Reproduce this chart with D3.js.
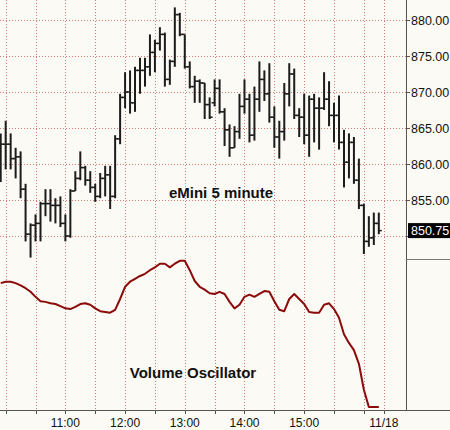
<!DOCTYPE html>
<html>
<head>
<meta charset="utf-8">
<script src="https://cdn.jsdelivr.net/npm/d3@7"></script>
<style>
  body { margin: 0; background: #fbfaf5; }
  text { font-family: "Liberation Sans", Arial, sans-serif; }
</style>
</head>
<body>
<div id="chart"></div>
<script>
// eMini 5 minute bars, first bar 09:55, last bar 16:15
const opens = [863.5, 862.75, 862.75, 860.75, 861.0, 856.5, 850.25, 851.5, 851.75, 854.5,
  854.5, 854.25, 854.25, 851.75, 850.0, 856.25, 858.0, 859.5, 857.75, 856.75,
  855.5, 858.0, 858.5, 855.5, 863.5, 869.25, 870.0, 868.5, 873.0, 873.0,
  873.5, 875.5, 876.75, 878.0, 871.75, 874.25, 880.75, 878.0, 873.5, 870.75,
  871.5, 871.25, 868.25, 868.5, 870.5, 867.25, 864.75, 862.25, 864.5, 868.0,
  869.0, 864.0, 869.0, 871.75, 869.75, 866.5, 863.75, 864.5, 869.75, 872.5,
  866.75, 866.5, 864.0, 869.0, 867.75, 867.75, 869.0, 866.75, 866.75, 863.0,
  860.25, 863.0, 857.75, 854.25, 849.25, 849.75, 851.75];
const highs = [864.25, 866.0, 864.25, 862.25, 861.75, 857.25, 851.75, 853.0, 854.75, 856.5,
  856.5, 855.25, 855.5, 853.0, 856.5, 859.0, 861.75, 859.75, 859.0, 857.25,
  858.75, 859.75, 859.75, 864.0, 869.75, 872.75, 873.0, 873.5, 874.75, 874.75,
  878.0, 877.25, 879.0, 878.25, 874.5, 881.75, 881.0, 878.0, 874.25, 872.25,
  871.75, 871.25, 869.25, 871.75, 871.75, 867.75, 865.5, 865.25, 869.75, 871.75,
  869.75, 870.75, 874.25, 873.0, 874.0, 868.0, 866.0, 871.25, 874.0, 873.25,
  867.75, 869.75, 869.5, 869.75, 869.25, 872.75, 871.5, 868.5, 869.5, 864.75,
  864.25, 863.75, 860.75, 854.5, 852.75, 853.25, 853.25];
const lows = [857.5, 859.25, 859.25, 858.0, 855.25, 849.25, 847.0, 849.25, 849.25, 852.75,
  852.0, 851.75, 851.25, 849.25, 849.75, 856.25, 857.75, 857.0, 856.0, 854.75,
  855.25, 855.5, 853.75, 855.25, 862.75, 867.75, 867.0, 867.25, 869.75, 870.75,
  872.25, 872.75, 875.75, 870.75, 871.0, 873.5, 877.75, 873.25, 870.5, 868.5,
  868.5, 866.25, 866.25, 868.0, 867.0, 862.5, 861.0, 862.25, 863.5, 867.0,
  863.0, 863.25, 867.25, 868.75, 865.75, 862.25, 860.75, 863.25, 868.0, 866.25,
  863.75, 862.75, 861.0, 863.0, 862.0, 867.5, 865.25, 863.0, 862.0, 856.75,
  858.0, 857.25, 853.75, 847.5, 848.5, 848.75, 850.25];
const closes = [862.75, 862.75, 860.75, 861.0, 856.5, 850.25, 851.5, 851.75, 854.5, 854.5,
  854.25, 854.25, 851.75, 850.0, 856.25, 858.0, 859.5, 857.75, 856.75, 855.5,
  858.0, 858.5, 855.5, 863.5, 869.25, 870.0, 868.5, 873.0, 873.0, 873.5,
  875.5, 876.75, 878.0, 871.75, 874.25, 880.75, 878.0, 873.5, 870.75, 871.5,
  871.25, 868.25, 866.5, 870.5, 867.25, 864.75, 862.25, 864.5, 868.0, 869.0,
  864.0, 869.0, 871.75, 869.75, 866.5, 863.75, 864.5, 869.75, 872.5, 866.75,
  866.5, 864.0, 869.0, 867.75, 867.75, 869.0, 866.75, 866.75, 863.0, 860.25,
  863.0, 857.75, 854.25, 849.25, 849.75, 851.75, 850.75];

// Volume oscillator, one value per bar
const oscillator = [2.2, 2.4, 2.4, 2.2, 1.9, 1.5, 1.0, 0.3, -0.3, -0.4,
  -0.6, -0.7, -1.0, -1.3, -1.4, -1.1, -0.7, -0.6, -0.8, -1.3,
  -1.7, -1.8, -1.9, -1.5, 0.0, 1.7, 2.4, 2.8, 3.2, 3.5,
  4.0, 4.4, 4.9, 4.9, 4.4, 4.9, 5.3, 5.3, 4.0, 2.5,
  1.7, 1.3, 0.8, 0.7, 1.0, 0.7, -0.4, -1.3, -0.8, 0.3,
  0.6, 0.3, 0.7, 1.1, 1.0, -0.3, -1.5, -1.7, 0.0, 0.7,
  0.0, -0.7, -1.8, -1.9, -1.9, -0.8, -0.6, -1.4, -2.6, -4.9,
  -6.1, -7.1, -9.0, -12.6, -15.0, -15.0, -15.0];

const firstBarTime = "09:55";
const barMinutes = 5;
const priceTicks = [850, 855, 860, 865, 870, 875, 880];
const gridTimes = ["10:00", "10:30", "11:00", "11:30", "12:00", "12:30", "13:00",
  "13:30", "14:00", "14:30", "15:00", "15:30", "16:00"];
const labelTimes = ["11:00", "12:00", "13:00", "14:00", "15:00"];
const dayBreakTime = "16:20";
const dayBreakLabel = "11/18";
const lastPrice = 850.75;

function toMinutes(s) {
  const p = s.split(":");
  return +p[0] * 60 + +p[1];
}

const bars = closes.map((c, i) => ({
  t: toMinutes(firstBarTime) + i * barMinutes,
  open: opens[i], high: highs[i], low: lows[i], close: c, osc: oscillator[i]
}));

const width = 450, height = 430;
const axisX = 406, axisY = 410;

const svg = d3.select("#chart")
  .append("svg")
  .attr("width", width)
  .attr("height", height);

svg.append("rect").attr("width", width).attr("height", height).attr("fill", "#fbfaf5");

// Scales
const x = d3.scaleLinear()
  .domain([toMinutes(firstBarTime), toMinutes(dayBreakTime)])
  .range([0.7, 0.7 + 77 * 4.975]);
const y = d3.scaleLinear().domain([850, 880]).range([236, 20]);
const oscY = d3.scaleLinear().domain([-15, 5]).range([407, 263]);

const gridColor = "#d07a7a";

// Horizontal grid (price panel)
svg.append("g")
  .selectAll("line")
  .data(priceTicks)
  .enter()
  .append("line")
  .attr("x1", 0)
  .attr("x2", axisX)
  .attr("y1", d => Math.round(y(d)) + 0.5)
  .attr("y2", d => Math.round(y(d)) + 0.5)
  .attr("stroke", gridColor)
  .attr("stroke-dasharray", "1,2");

// Vertical grid (both panels)
const vTimes = gridTimes.map(toMinutes).concat([toMinutes(dayBreakTime)]);
svg.append("g")
  .selectAll("line")
  .data(vTimes)
  .enter()
  .append("line")
  .attr("x1", d => Math.round(x(d)) + 0.5)
  .attr("x2", d => Math.round(x(d)) + 0.5)
  .attr("y1", 0)
  .attr("y2", axisY)
  .attr("stroke", gridColor)
  .attr("stroke-dasharray", "1,2");

// Price bars
const barG = svg.append("g").attr("stroke", "#1c1c1c");
barG.selectAll(".hl")
  .data(bars)
  .enter()
  .append("line")
  .attr("x1", d => x(d.t))
  .attr("x2", d => x(d.t))
  .attr("y1", d => y(d.high))
  .attr("y2", d => y(d.low))
  .attr("stroke-width", 2);
barG.selectAll(".op")
  .data(bars)
  .enter()
  .append("line")
  .attr("x1", d => x(d.t) - 3)
  .attr("x2", d => x(d.t))
  .attr("y1", d => y(d.open))
  .attr("y2", d => y(d.open))
  .attr("stroke-width", 1.5);
barG.selectAll(".cl")
  .data(bars)
  .enter()
  .append("line")
  .attr("x1", d => x(d.t))
  .attr("x2", d => x(d.t) + 3)
  .attr("y1", d => y(d.close))
  .attr("y2", d => y(d.close))
  .attr("stroke-width", 1.5);

// Volume oscillator line
const oscLine = d3.line()
  .x(d => x(d.t))
  .y(d => oscY(d.osc));
svg.append("path")
  .datum(bars)
  .attr("d", oscLine)
  .attr("fill", "none")
  .attr("stroke", "#8b0a0a")
  .attr("stroke-width", 2)
  .attr("stroke-linejoin", "round");

// Panel titles
svg.append("text")
  .attr("x", 221)
  .attr("y", 198)
  .attr("text-anchor", "middle")
  .style("font-size", "15px")
  .style("font-weight", "bold")
  .style("fill", "#111")
  .text("eMini 5 minute");

svg.append("text")
  .attr("x", 193)
  .attr("y", 378)
  .attr("text-anchor", "middle")
  .style("font-size", "15px")
  .style("font-weight", "bold")
  .style("fill", "#111")
  .text("Volume Oscillator");

// Right price axis
svg.append("line")
  .attr("x1", axisX + 0.5).attr("x2", axisX + 0.5)
  .attr("y1", 0).attr("y2", axisY)
  .attr("stroke", "#555");
svg.append("line")
  .attr("x1", axisX).attr("x2", width)
  .attr("y1", 259.5).attr("y2", 259.5)
  .attr("stroke", "#777");

const yAxis = svg.append("g")
  .selectAll("g")
  .data(priceTicks)
  .enter()
  .append("g")
  .attr("transform", d => "translate(0," + (Math.round(y(d)) + 0.5) + ")");
yAxis.append("line")
  .attr("x1", axisX).attr("x2", axisX + 4)
  .attr("stroke", "#555");
// the 850 label sits under the last price box, so it is left out
yAxis.filter(d => Math.abs(d - lastPrice) > 2)
  .append("text")
  .attr("x", axisX + 5)
  .attr("dy", "0.35em")
  .style("font-size", "12.5px")
  .style("fill", "#111")
  .text(d => d3.format(".2f")(d));

// Last price marker
svg.append("rect")
  .attr("x", axisX + 2)
  .attr("y", y(lastPrice) - 7.5)
  .attr("width", width - axisX - 2)
  .attr("height", 15)
  .attr("fill", "#000");
svg.append("text")
  .attr("x", axisX + 5)
  .attr("y", y(lastPrice))
  .attr("dy", "0.35em")
  .style("font-size", "12.5px")
  .style("fill", "#fff")
  .text(d3.format(".2f")(lastPrice));

// Bottom time axis
svg.append("line")
  .attr("x1", 0).attr("x2", width)
  .attr("y1", axisY + 0.5).attr("y2", axisY + 0.5)
  .attr("stroke", "#555");
svg.append("g")
  .selectAll("line")
  .data(vTimes)
  .enter()
  .append("line")
  .attr("x1", d => Math.round(x(d)) + 0.5)
  .attr("x2", d => Math.round(x(d)) + 0.5)
  .attr("y1", axisY)
  .attr("y2", axisY + 4)
  .attr("stroke", "#555");

const timeLabels = labelTimes.map(s => ({ t: toMinutes(s), label: s }))
  .concat([{ t: toMinutes(dayBreakTime), label: dayBreakLabel }]);
svg.append("g")
  .selectAll("text")
  .data(timeLabels)
  .enter()
  .append("text")
  .attr("x", d => x(d.t))
  .attr("y", 427)
  .attr("text-anchor", "middle")
  .style("font-size", "12px")
  .style("fill", "#111")
  .text(d => d.label);
</script>
</body>
</html>
